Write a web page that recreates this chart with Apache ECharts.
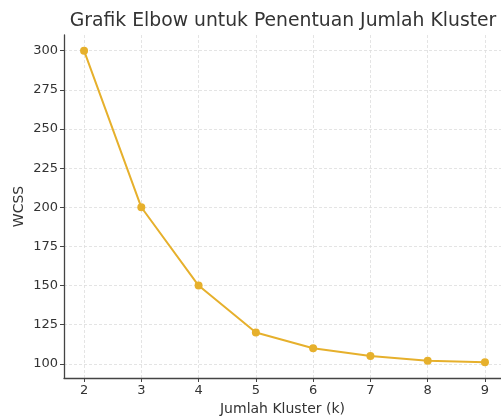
<!DOCTYPE html>
<html>
<head>
<meta charset="utf-8">
<script src="https://cdn.jsdelivr.net/npm/echarts@6/dist/echarts.min.js"></script>
<style>
  html, body { margin: 0; padding: 0; background: #fff; }
  #main { width: 501px; height: 417px; }
</style>
</head>
<body>
<div id="main"></div>
<script>
  // jumlah kluster (k) dan nilai WCSS
  var kValues = [2, 3, 4, 5, 6, 7, 8, 9];
  var wcss = [300, 200, 150, 120, 110, 105, 102, 101];
  var yTicks = [100, 125, 150, 175, 200, 225, 250, 275, 300];

  var chart = echarts.init(document.getElementById('main'));
  var txt = '#333';
  var font = 'DejaVu Sans';

  chart.setOption({
    animation: false,
    title: {
      text: 'Grafik Elbow untuk Penentuan Jumlah Kluster',
      left: 278, top: 7, textAlign: 'center',
      textStyle: { fontFamily: font, fontSize: 18.8, fontWeight: 'normal', color: txt }
    },
    grid: { left: 64, top: 35, right: 0, bottom: 39, outerBoundsMode: 'none' },
    xAxis: {
      type: 'value', min: 1.65, max: 9.28,
      name: 'Jumlah Kluster (k)', nameLocation: 'middle', nameGap: 23,
      nameTextStyle: { fontFamily: font, fontSize: 14, color: txt },
      axisLine: { lineStyle: { color: '#444', width: 1.3 } },
      axisTick: { show: true, length: 4, lineStyle: { color: '#444' }, customValues: kValues },
      axisLabel: { fontFamily: font, fontSize: 13, color: txt, margin: 6, customValues: kValues },
      splitLine: { show: true, lineStyle: { color: '#ddd', type: [3, 2], width: 0.8 } }
    },
    yAxis: {
      type: 'value', min: 91, max: 310,
      name: 'WCSS', nameLocation: 'middle', nameGap: 38, nameRotate: 90, nameMoveOverlap: false,
      nameTextStyle: { fontFamily: font, fontSize: 14, color: txt },
      axisLine: { show: true, lineStyle: { color: '#444', width: 1.3 } },
      axisTick: { show: true, length: 4, lineStyle: { color: '#444' }, customValues: yTicks },
      axisLabel: { fontFamily: font, fontSize: 13, color: txt, margin: 6, customValues: yTicks },
      splitLine: { show: true, lineStyle: { color: '#ddd', type: [3, 2], width: 0.8 } }
    },
    series: [{
      type: 'line',
      data: kValues.map(function (k, i) { return [k, wcss[i]]; }),
      symbol: 'circle', symbolSize: 8,
      lineStyle: { color: '#e6b02c', width: 2 },
      itemStyle: { color: '#e6b02c' }
    }]
  });
</script>
</body>
</html>
